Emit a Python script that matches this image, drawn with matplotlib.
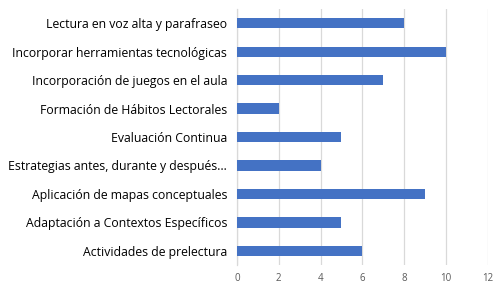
import matplotlib
matplotlib.use("Agg")
import matplotlib.pyplot as plt

categories = [
    "Lectura en voz alta y parafraseo",
    "Incorporar herramientas tecnológicas",
    "Incorporación de juegos en el aula",
    "Formación de Hábitos Lectorales",
    "Evaluación Continua",
    "Estrategias antes, durante y después…",
    "Aplicación de mapas conceptuales",
    "Adaptación a Contextos Específicos",
    "Actividades de prelectura",
]
values = [8, 10, 7, 2, 5, 4, 9, 5, 6]
xticks = [0, 2, 4, 6, 8, 10, 12]

plt.rcParams['font.family'] = ['Open Sans', 'DejaVu Sans']

fig = plt.figure(figsize=(5.03, 2.90), dpi=100)
ax = fig.add_axes([0.471, 0.086, 0.499, 0.883])

pos = list(range(len(categories)))[::-1]
ax.barh(pos, values, height=0.36, color="#4472C4", zorder=3)

ax.set_xlim(0, 12)
ax.set_ylim(-0.5, len(categories) - 0.5)
ax.set_xticks(xticks)
ax.set_yticks(pos)
ax.set_yticklabels(categories, fontsize=8.8, color="#000000")
ax.tick_params(axis='x', labelsize=7, colors="#595959", length=0, pad=6)
ax.tick_params(axis='y', length=0, pad=7)

ax.grid(axis='x', color="#D9D9D9", linewidth=0.9, zorder=0)
for s in ['top', 'right', 'bottom']:
    ax.spines[s].set_visible(False)
ax.spines['left'].set_color("#D9D9D9")
ax.spines['left'].set_linewidth(0.9)

fig.savefig("out.png", dpi=100)
